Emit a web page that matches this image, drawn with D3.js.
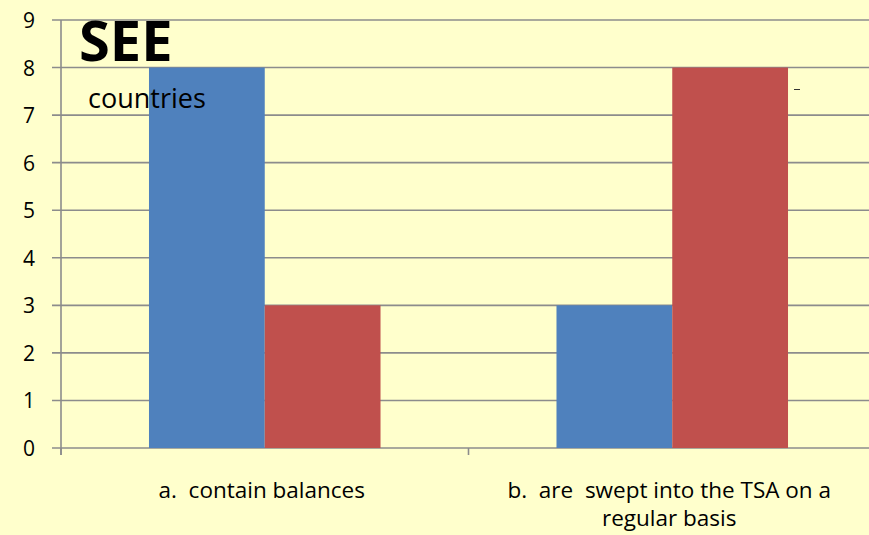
<!DOCTYPE html>
<html>
<head>
<meta charset="utf-8">
<script src="https://cdn.jsdelivr.net/npm/d3@7"></script>
<style>
  body { margin: 0; background: #ffffcc; }
  svg { display: block; font-family: "Open Sans", "Liberation Sans", sans-serif; }
  text { white-space: pre; }
</style>
</head>
<body>
<svg id="chart" width="869" height="535"></svg>
<script>
// chart values
const categories = ['a.  contain balances', 'b.  are  swept into the TSA on a regular basis'];
const categoryLines = [['a.  contain balances'], ['b.  are  swept into the TSA on a', 'regular basis']];
const seriesNames = ['Series 1', 'Series 2'];
const series1 = [8, 3];
const series2 = [3, 8];
const yTicks = [0, 1, 2, 3, 4, 5, 6, 7, 8, 9];
const colors = ['#4f81bd', '#c0504d'];

const svg = d3.select('#chart');
const plotLeft = 61, plotTop = 20, plotBottom = 448, plotRight = 876;

const x = d3.scaleBand()
  .domain(categories)
  .range([plotLeft, plotRight])
  .paddingInner(0)
  .paddingOuter(0);

const xInner = d3.scaleBand()
  .domain(seriesNames)
  .range([0, x.bandwidth()])
  .paddingOuter(0.76)
  .paddingInner(0);

const y = d3.scaleLinear().domain([0, 9]).range([plotBottom, plotTop]);

svg.append('rect').attr('width', 869).attr('height', 535).attr('fill', '#ffffcc');

// gridlines
svg.append('g')
  .selectAll('line')
  .data(yTicks)
  .join('line')
  .attr('x1', plotLeft - 9)
  .attr('x2', 869)
  .attr('y1', (d) => y(d))
  .attr('y2', (d) => y(d))
  .attr('stroke', '#8c8c8c')
  .attr('stroke-width', 1.6);

// y tick labels
svg.append('g')
  .selectAll('text')
  .data(yTicks)
  .join('text')
  .attr('x', 35)
  .attr('y', (d) => y(d) + 8)
  .attr('text-anchor', 'end')
  .attr('font-size', 21)
  .attr('fill', '#000')
  .text((d) => d);

// bars
const rows = categories.map((c, i) => ({ cat: c, vals: [series1[i], series2[i]] }));
const groups = svg.append('g')
  .selectAll('g')
  .data(rows)
  .join('g')
  .attr('transform', (d) => `translate(${x(d.cat)},0)`);

groups.selectAll('rect')
  .data((d) => d.vals.map((v, j) => ({ name: seriesNames[j], v, j })))
  .join('rect')
  .attr('x', (d) => xInner(d.name))
  .attr('width', xInner.bandwidth())
  .attr('y', (d) => y(d.v))
  .attr('height', (d) => y(0) - y(d.v))
  .attr('fill', (d) => colors[d.j]);

// axes
svg.append('line')
  .attr('x1', plotLeft).attr('x2', plotLeft)
  .attr('y1', plotTop).attr('y2', plotBottom + 7)
  .attr('stroke', '#8c8c8c').attr('stroke-width', 1.6);

svg.append('g')
  .selectAll('line')
  .data(categories)
  .join('line')
  .attr('x1', (d) => x(d))
  .attr('x2', (d) => x(d))
  .attr('y1', plotBottom)
  .attr('y2', plotBottom + 7)
  .attr('stroke', '#8c8c8c')
  .attr('stroke-width', 1.6);

// category labels
svg.append('g')
  .selectAll('text')
  .data(categories)
  .join('text')
  .attr('text-anchor', 'middle')
  .attr('font-size', 22.5)
  .attr('fill', '#000')
  .each(function (d, i) {
    d3.select(this).selectAll('tspan')
      .data(categoryLines[i])
      .join('tspan')
      .attr('x', x(d) + x.bandwidth() / 2 - 3)
      .attr('y', (t, k) => 498 + k * 28)
      .text((t) => t);
  });

// title text
svg.append('text')
  .attr('x', 79).attr('y', 61)
  .attr('font-size', 56)
  .attr('font-weight', 'bold')
  .attr('fill', '#000')
  .text('SEE');

svg.append('text')
  .attr('x', 88).attr('y', 108)
  .attr('font-size', 27)
  .attr('fill', '#000')
  .text('countries');

// stray legend mark
svg.append('line')
  .attr('x1', 794).attr('x2', 800)
  .attr('y1', 89.5).attr('y2', 89.5)
  .attr('stroke', '#333').attr('stroke-width', 1);
</script>
</body>
</html>
